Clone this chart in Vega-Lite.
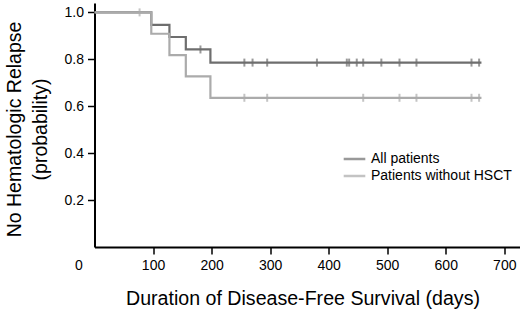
{
  "$schema": "https://vega.github.io/schema/vega-lite/v6.json",
  "autosize": {"type": "none"},
  "padding": {"left": 94.5, "top": 3, "right": 0.5, "bottom": 64},
  "width": 425,
  "height": 244,
  "config": {"view": {"stroke": null}, "font": "Liberation Sans"},
  "datasets": {
    "curves": [
      {"time": 0, "prob": 1.0, "group": "All patients"},
      {"time": 97, "prob": 0.947, "group": "All patients"},
      {"time": 128, "prob": 0.895, "group": "All patients"},
      {"time": 156, "prob": 0.842, "group": "All patients"},
      {"time": 198, "prob": 0.786, "group": "All patients"},
      {"time": 661, "prob": 0.786, "group": "All patients"},
      {"time": 0, "prob": 1.0, "group": "Patients without HSCT"},
      {"time": 97, "prob": 0.909, "group": "Patients without HSCT"},
      {"time": 128, "prob": 0.818, "group": "Patients without HSCT"},
      {"time": 156, "prob": 0.727, "group": "Patients without HSCT"},
      {"time": 198, "prob": 0.636, "group": "Patients without HSCT"},
      {"time": 661, "prob": 0.636, "group": "Patients without HSCT"}
    ],
    "censors": [
      {"time": 181, "prob": 0.842, "group": "All patients"},
      {"time": 256, "prob": 0.786, "group": "All patients"},
      {"time": 270, "prob": 0.786, "group": "All patients"},
      {"time": 295, "prob": 0.786, "group": "All patients"},
      {"time": 380, "prob": 0.786, "group": "All patients"},
      {"time": 431, "prob": 0.786, "group": "All patients"},
      {"time": 435, "prob": 0.786, "group": "All patients"},
      {"time": 448, "prob": 0.786, "group": "All patients"},
      {"time": 459, "prob": 0.786, "group": "All patients"},
      {"time": 490, "prob": 0.786, "group": "All patients"},
      {"time": 521, "prob": 0.786, "group": "All patients"},
      {"time": 550, "prob": 0.786, "group": "All patients"},
      {"time": 644, "prob": 0.786, "group": "All patients"},
      {"time": 657, "prob": 0.786, "group": "All patients"},
      {"time": 77, "prob": 1.0, "group": "Patients without HSCT"},
      {"time": 256, "prob": 0.636, "group": "Patients without HSCT"},
      {"time": 295, "prob": 0.636, "group": "Patients without HSCT"},
      {"time": 459, "prob": 0.636, "group": "Patients without HSCT"},
      {"time": 521, "prob": 0.636, "group": "Patients without HSCT"},
      {"time": 550, "prob": 0.636, "group": "Patients without HSCT"},
      {"time": 644, "prob": 0.636, "group": "Patients without HSCT"},
      {"time": 657, "prob": 0.636, "group": "Patients without HSCT"}
    ]
  },
  "encoding": {
    "x": {
      "field": "time",
      "type": "quantitative",
      "scale": {"domain": [0, 726], "nice": false, "zero": false},
      "axis": {
        "values": [0, 100, 200, 300, 400, 500, 600, 700],
        "title": "Duration of Disease-Free Survival (days)",
        "grid": false,
        "domainColor": "black",
        "domainWidth": 2,
        "tickColor": "black",
        "tickWidth": 1.5,
        "tickSize": 7,
        "tickOpacity": {"condition": {"test": "datum.value === 0", "value": 0}, "value": 1},
        "labelOffset": {"condition": {"test": "datum.value === 0", "value": -16}, "value": 0},
        "labelFontSize": 14,
        "labelColor": "black",
        "labelPadding": 4,
        "labelFlush": false,
        "labelOverlap": false,
        "titleFontSize": 19.6,
        "titleFontWeight": "normal",
        "titleColor": "black",
        "titleX": 208,
        "titleY": 57.5,
        "titleBaseline": "alphabetic",
        "titleAlign": "center"
      }
    },
    "y": {
      "field": "prob",
      "type": "quantitative",
      "scale": {"domain": [0, 1.04], "nice": false},
      "axis": {
        "values": [0.2, 0.4, 0.6, 0.8, 1.0],
        "format": ".1f",
        "title": ["No Hematologic Relapse", "(probability)"],
        "grid": false,
        "domainColor": "black",
        "domainWidth": 2,
        "tickColor": "black",
        "tickWidth": 1.5,
        "tickSize": 7,
        "labelFontSize": 14,
        "labelColor": "black",
        "labelPadding": 4,
        "labelFlush": false,
        "labelOverlap": false,
        "titleFontSize": 19.5,
        "titleFontWeight": "normal",
        "titleColor": "black",
        "titleAngle": -90,
        "titleX": -74,
        "titleY": 126,
        "titleBaseline": "alphabetic",
        "titleAlign": "center",
        "titleLineHeight": 26
      }
    },
    "color": {
      "field": "group",
      "type": "nominal",
      "scale": {"domain": ["All patients", "Patients without HSCT"], "range": ["#6e6e6e", "#ababab"]},
      "legend": {
        "title": null,
        "orient": "none",
        "legendX": 252.5,
        "legendY": 148.5,
        "padding": 0,
        "symbolType": "M-1.8,0H1.8",
        "symbolSize": 144,
        "symbolStrokeWidth": 2.5,
        "labelFontSize": 14,
        "labelColor": "black",
        "labelOffset": 9,
        "rowPadding": 2
      }
    }
  },
  "layer": [
    {
      "data": {"name": "curves"},
      "mark": {"type": "line", "interpolate": "step-after", "strokeWidth": 2.2}
    },
    {
      "data": {"name": "censors"},
      "mark": {"type": "tick", "orient": "vertical", "size": 8, "thickness": 2}
    }
  ]
}
